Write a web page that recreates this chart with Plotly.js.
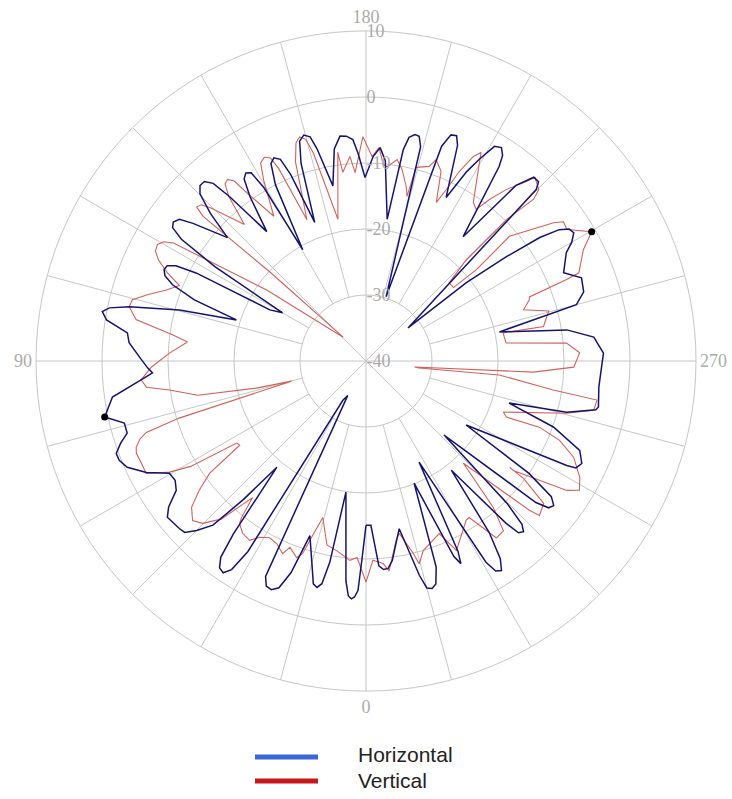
<!DOCTYPE html>
<html>
<head>
<meta charset="utf-8">
<script src="https://cdn.plot.ly/plotly-3.0.1.min.js"></script>
<style>html,body{margin:0;padding:0;background:#fff}#chart{width:732px;height:799px}</style>
</head>
<body>
<div id="chart"></div>
<script>
// Horizontal polarisation (dB) vs angle (deg), in drawing order
const horizontalTheta = [0,1.2,2.0,2.8,3.5,4.3,5.2,8.7,10.2,11.2,12.2,13.3,14.5,17.8,19.5,21.0,22.5,23.9,25.0,27.9,30.5,31.8,32.8,34.0,35.3,36.5,37.5,40.0,41.5,43.0,45.0,46.6,48.1,51.8,53.5,55.7,58.0,60.3,63.1,66.0,68.1,69.7,71.5,73.2,75.6,77.9,79.2,81.9,85.2,86.8,88.2,90.3,94.4,96.7,99.0,100.6,101.7,102.9,105.3,107.6,109.6,111.5,113.0,114.4,115.6,116.6,117.4,118.0,120.0,122.0,123.4,124.6,125.8,127.2,128.5,131.7,133.5,135.2,136.6,138.0,139.3,140.3,142.5,144.8,146.2,147.4,148.6,149.5,150.4,152.8,154.3,155.6,157.0,158.0,159.7,161.8,163.2,164.6,166.0,167.0,169.3,171.5,173.4,175.0,176.6,177.8,179.7,182.0,183.8,185.5,188.5,190.0,190.9,192.2,193.3,194.3,197.4,199.4,200.6,201.9,203.0,206.1,208.0,209.3,210.9,212.4,213.6,214.4,218.0,220.5,222.4,223.9,224.8,231.8,232.0,233.4,234.6,235.8,237.0,238.3,240.0,241.6,245.9,248.9,252.4,255.0,257.7,261.2,264.0,268.1,271.5,276.4,281.2,282.0,284.3,286.4,289.4,292.7,295.4,297.0,297.5,302.6,304.6,306.2,307.6,308.8,309.8,313.5,315.3,316.3,317.3,318.4,319.2,322.0,324.3,325.8,327.1,328.3,329.2,332.3,334.2,334.9,335.8,338.5,341.2,342.6,343.8,345.0,346.0,348.8,352.5,353.9,355.2,356.4,358.3,360];
const horizontalDb = [-15.1,-9.8,-5.2,-4.2,-3.9,-4.3,-6.5,-19.9,-9.0,-5.6,-4.9,-5.3,-7.5,-12.2,-6.0,-3.2,-2.5,-2.7,-4.0,-34.1,-33.1,-6.0,-2.4,-1.3,-1.6,-3.0,-7.0,-19.0,-12.0,-6.0,-3.7,-2.2,-2.0,-1.7,-2.8,-5.2,-5.9,-5.7,-2.7,-0.4,0.3,0.35,-0.8,-2.2,-2.2,0.5,-0.1,-1.2,-5.8,-7.6,-6.9,-6.0,-4.0,-3.6,-0.2,0.65,-0.3,-3.2,-10.7,-19.4,-12.4,-8.5,-6.9,-6.4,-6.6,-7.8,-11.0,-23.5,-25.4,-13.0,-6.5,-4.4,-4.0,-4.5,-6.5,-11.9,-7.5,-4.3,-3.4,-3.4,-4.5,-7.6,-15.3,-9.5,-6.8,-6.2,-6.6,-9.5,-20.6,-10.0,-6.8,-6.2,-6.8,-9.5,-17.6,-8.5,-5.2,-4.5,-5.0,-7.0,-13.0,-7.5,-5.7,-5.8,-6.4,-8.5,-12.2,-9.0,-7.6,-9.5,-18.3,-7.5,-5.5,-4.9,-5.0,-6.5,-29.8,-5.5,-3.4,-3.2,-4.5,-12.4,-7.5,-5.0,-2.1,-1.7,-2.6,-4.3,-16.1,-5.0,-2.3,-2.3,-3.4,-31.9,-20.7,-13.5,-7.7,-4.6,-3.3,-3.0,-4.0,-5.5,-7.2,-5.0,-5.4,-7.0,-19.3,-9.2,-5.3,-4.0,-4.3,-4.5,-4.1,-4.4,-8.6,-17.4,-9.9,-4.9,-3.8,-4.3,-5.7,-22.0,-10.0,-5.2,-4.1,-4.5,-6.5,-23.7,-9.5,-5.8,-4.8,-5.2,-7.5,-19.0,-8.0,-3.8,-2.2,-2.6,-4.5,-22.7,-8.0,-6.1,-7.5,-20.1,-7.0,-4.6,-4.1,-4.4,-6.5,-14.1,-9.5,-8.4,-8.3,-8.9,-15.1,-15.1];

// Vertical polarisation (dB) vs angle (deg), in drawing order
const verticalTheta = [0,2.6,4.6,8.7,12.0,15.4,17.4,18.2,19.4,22.2,23.4,26.1,28.6,31.1,33.0,35.6,37.9,38.5,39.7,42.5,45.2,47.4,50.0,52.2,54.3,56.3,57.6,59.0,60.5,62.9,65.5,68.1,69.4,71.0,72.0,73.0,74.9,76.1,78.5,81.6,83.2,85.2,88.4,92.3,96.1,97.7,100.2,102.9,104.7,107.0,109.6,112.0,114.0,116.0,117.6,119.2,120.5,121.5,125.6,136.2,132.8,131.6,132.3,133.5,134.6,138.3,140.2,141.5,142.7,143.8,144.6,147.5,150.5,152.0,153.5,154.8,155.6,157.3,160.5,162.2,163.5,164.8,165.8,168.8,172.3,173.0,175.5,176.7,179.2,181.7,183.5,185.0,186.2,188.8,190.7,193.0,194.0,194.5,198.0,199.2,201.6,203.9,205.1,206.2,207.7,208.9,209.7,214.1,216.0,217.4,219.3,221.8,222.6,225.2,226.0,224.8,224.8,224.7,226.8,230.0,230.4,229.0,233.6,234.8,236.8,240.2,242.9,247.5,247.9,248.6,249.5,252.0,254.7,259.0,258.4,262.7,264.9,267.8,271.7,273.8,277.1,277.5,276.0,278.8,279.6,282.2,284.6,290.4,291.8,290.9,292.3,294.9,298.6,301.2,302.8,306.6,306.5,306.7,308.7,311.7,312.4,316.4,319.0,321.0,323.6,326.6,327.8,332.5,334.5,337.0,343.2,345.3,346.2,349.1,350.5,353.7,355.2,358.0,360];
const verticalDb = [-6.5,-10.2,-9.7,-10.9,-11.5,-15.4,-11.5,-9.3,-8.4,-9.5,-8.2,-9.2,-9.5,-8.8,-7.6,-7.9,-8.8,-9.7,-13.1,-7.5,-5.1,-4.3,-5.5,-8.0,-10.8,-17.0,-16.8,-9.0,-5.8,-2.6,-2.6,-2.5,-2.8,-3.8,-5.0,-10.4,-28.3,-22.9,-14.0,-9.9,-6.5,-5.8,-7.5,-10.2,-12.8,-10.4,-4.6,-3.2,-3.4,-5.5,-7.9,-9.5,-7.0,-5.0,-4.0,-3.8,-4.4,-5.8,-21.5,-35.0,-20.1,-7.0,-5.3,-5.6,-7.0,-12.3,-7.5,-5.7,-5.4,-6.2,-8.5,-14.0,-8.5,-6.0,-5.5,-6.0,-8.0,-16.8,-8.0,-5.3,-4.6,-5.2,-7.5,-18.1,-8.1,-11.2,-8.9,-11.4,-6.0,-9.0,-7.6,-10.1,-10.4,-9.1,-10.5,-12.9,-14.3,-9.7,-9.0,-7.7,-9.1,-13.7,-11.3,-8.0,-5.0,-3.9,-5.3,-11.0,-11.6,-9.2,-6.4,-3.5,-2.2,-3.1,-4.7,-9.8,-14.8,-18.4,-22.7,-22.7,-18.3,-11.2,-4.7,-3.4,-3.6,-0.6,-3.0,-5.1,-7.2,-13.4,-13.6,-14.9,-11.3,-12.6,-18.8,-18.6,-9.5,-7.6,-8.5,-14.6,-32.6,-31.9,-19.7,-11.3,-4.5,-4.7,-8.6,-17.8,-17.1,-11.9,-8.3,-5.3,-3.1,-2.2,-3.8,-12.2,-12.9,-10.2,-5.5,-4.8,-6.4,-18.6,-10.6,-6.9,-6.7,-11.6,-11.5,-9.3,-8.2,-11.6,-10.0,-8.2,-10.0,-13.4,-12.4,-8.0,-9.2,-9.8,-6.5];

// Peak markers
const peakTheta = [77.9, 240.2];
const peakDb = [0.5, -0.6];

// Axis ticks
const radialTicks = [-40, -30, -20, -10, 0, 10];
const radialTickText = ['-40', '-30', '-20', '-10', '0', '10'];
const angleTicks = [0, 90, 180, 270];
const angleTickText = ['0', '90', '180', '270'];
const legendNames = ['Horizontal', 'Vertical'];

// spoke grid (every 15 deg, short ones start at inner ring)
const spokeTheta = [], spokeR = [];
for (let a = 0; a < 360; a += 15) {
  spokeTheta.push(a, a, null);
  spokeR.push(a % 45 === 0 ? -40 : -30, 10, null);
}

const gridColor = '#c6c6c6';
const labelFont = {family: 'Liberation Serif, serif', size: 18, color: '#ababab'};

const traces = [
  {type: 'scatterpolar', mode: 'lines', theta: spokeTheta, r: spokeR,
   line: {color: gridColor, width: 1}, hoverinfo: 'skip', showlegend: false, connectgaps: false},
  {type: 'scatterpolar', mode: 'lines', name: legendNames[1], theta: verticalTheta, r: verticalDb,
   line: {color: '#d2625c', width: 1.1}, showlegend: false},
  {type: 'scatterpolar', mode: 'lines', name: legendNames[0], theta: horizontalTheta, r: horizontalDb,
   line: {color: '#141470', width: 1.5}, showlegend: false},
  {type: 'scatterpolar', mode: 'markers', theta: peakTheta, r: peakDb,
   marker: {color: '#000', size: 7}, showlegend: false}
];

const layout = {
  width: 732, height: 799,
  margin: {l: 0, r: 0, t: 0, b: 0},
  paper_bgcolor: '#fff',
  showlegend: false,
  polar: {
    domain: {x: [36/732, 696/732], y: [108/799, 768/799]},
    bgcolor: '#fff',
    angularaxis: {
      rotation: 270, direction: 'clockwise',
      tickmode: 'array', tickvals: angleTicks, ticktext: angleTickText,
      showgrid: false, showline: true, linecolor: gridColor, linewidth: 1,
      ticks: '', tickfont: labelFont
    },
    radialaxis: {
      range: [-40, 10], angle: 90, side: 'clockwise', tickangle: 90,
      tickmode: 'array', tickvals: radialTicks, ticktext: radialTickText,
      showline: false, ticks: '', showgrid: true, gridcolor: gridColor, gridwidth: 1,
      tickfont: labelFont
    }
  },
  shapes: [
    {type: 'line', xref: 'paper', yref: 'paper', x0: 255/732, x1: 318/732, y0: 1-757/799, y1: 1-757/799,
     line: {color: '#3b66d6', width: 5}},
    {type: 'line', xref: 'paper', yref: 'paper', x0: 255/732, x1: 318/732, y0: 1-781/799, y1: 1-781/799,
     line: {color: '#c8161b', width: 5}}
  ],
  annotations: [
    {xref: 'paper', yref: 'paper', x: 356/732, y: 1-754/799, xanchor: 'left', yanchor: 'middle',
     text: legendNames[0], showarrow: false, font: {family: 'Liberation Sans, Arial', size: 21, color: '#222'}},
    {xref: 'paper', yref: 'paper', x: 356/732, y: 1-780/799, xanchor: 'left', yanchor: 'middle',
     text: legendNames[1], showarrow: false, font: {family: 'Liberation Sans, Arial', size: 21, color: '#222'}}
  ]
};

Plotly.newPlot('chart', traces, layout, {displayModeBar: false, staticPlot: true});
</script>
</body>
</html>
